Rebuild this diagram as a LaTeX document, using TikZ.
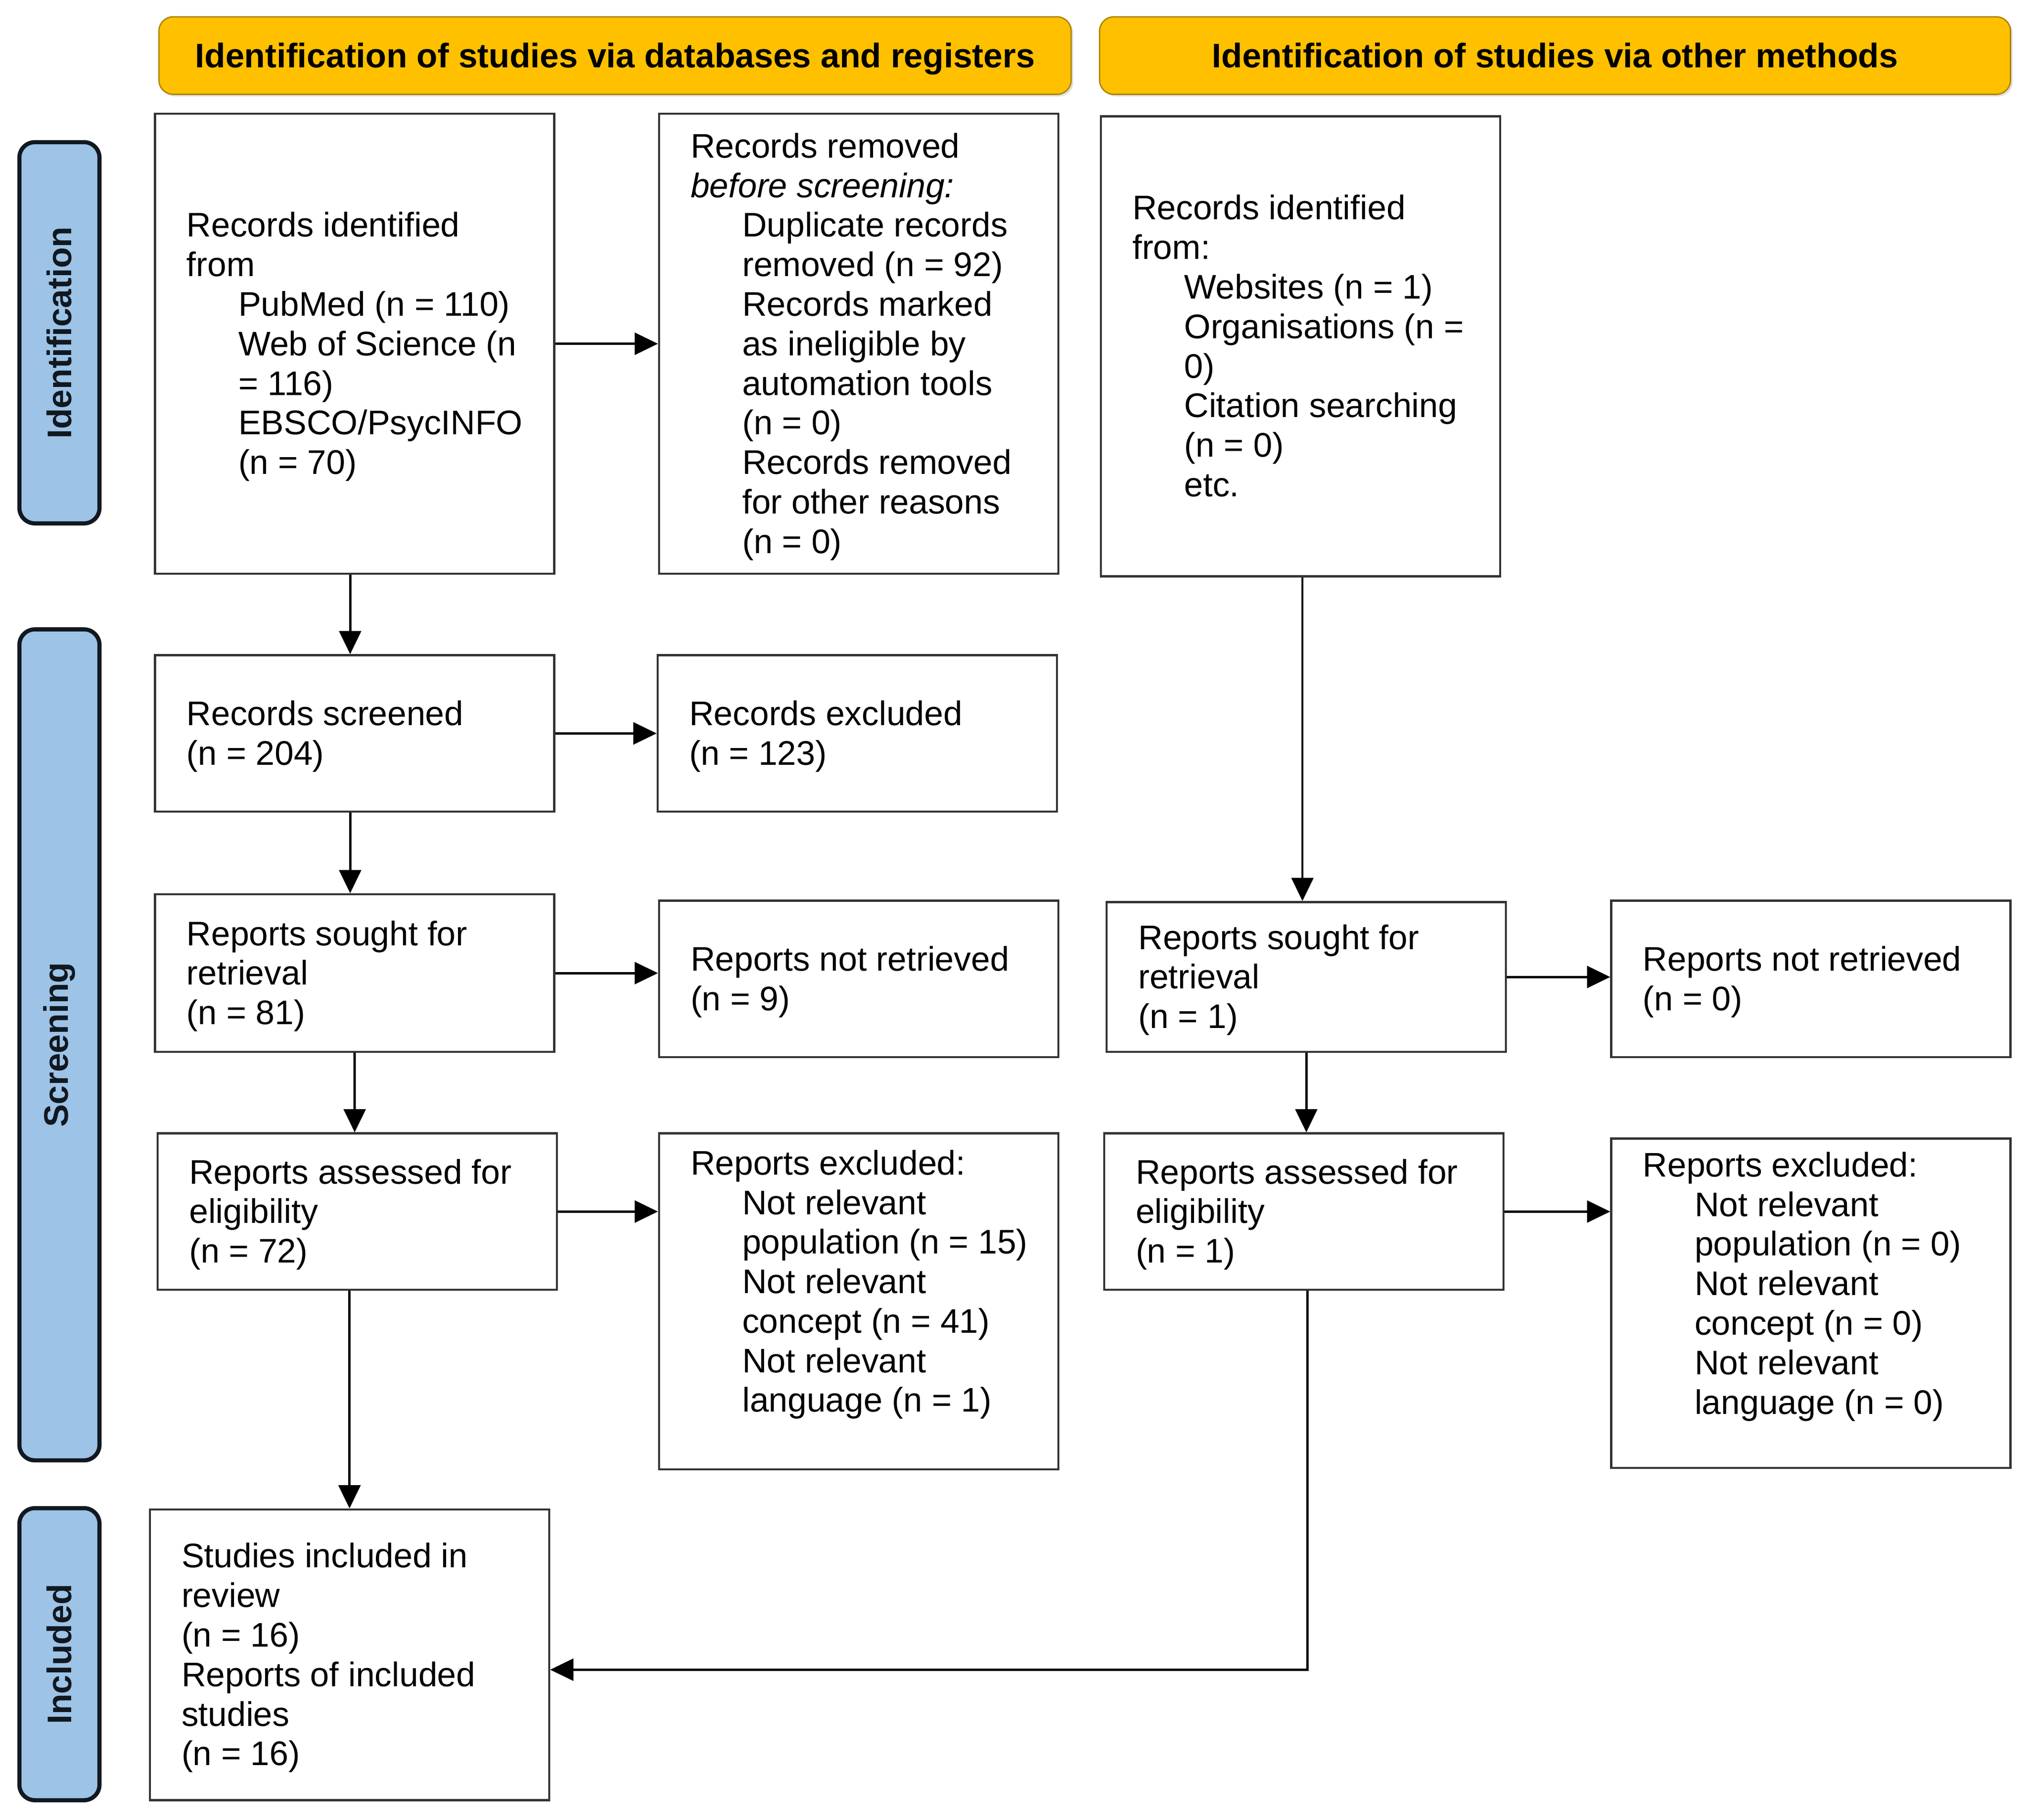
\documentclass[tikz,border=0pt]{standalone}
\usepackage{fontspec}
\setmainfont{Liberation Sans}
\usetikzlibrary{arrows.meta,shadows}
\definecolor{hdr}{HTML}{FFC000}
\definecolor{hdrline}{HTML}{A88300}
\definecolor{side}{HTML}{9DC3E6}
\definecolor{sideline}{HTML}{111820}
\definecolor{boxline}{HTML}{333333}
\newlength\boxtw
\setlength\boxtw{130pt}
\newcommand\bt[1]{\raisebox{-1.5pt}[\height][\depth]{\makebox[\boxtw][l]{\begin{tabular}{@{}l@{}}#1\end{tabular}}}}
\newcommand\ii{\hspace*{20pt}}
\begin{document}
\begin{tikzpicture}[x=0.5pt,y=-0.5pt,
  every node/.style={font=\fontsize{13.2}{15.3}\selectfont},
  hdrbox/.style={draw=hdrline, line width=0.5pt, fill=hdr, rounded corners=5.5pt,
    minimum height=30pt, inner sep=0pt, text height=11.5pt, text depth=2.3pt,
    font=\fontsize{13.2}{15.3}\selectfont\bfseries,
    drop shadow={opacity=0.25, shadow xshift=0.8pt, shadow yshift=-0.8pt}},
  sidebox/.style={draw=sideline, line width=1.6pt, fill=side, rounded corners=6pt,
    minimum width=31pt, inner sep=0pt, text=sideline,
    font=\fontsize{13.2}{15.3}\selectfont\bfseries},
  flowbox/.style={draw=boxline, line width=0.8pt, fill=white, inner xsep=12pt,
    inner ysep=0pt, minimum width=154.5pt},
  arr/.style={draw=black, line width=0.9pt, -{Triangle[length=9pt,width=8.5pt]}}
]
\fill[white] (0,0) rectangle (1568,1408);
\useasboundingbox (0,0) rectangle (1568,1408);

% headers
\node[hdrbox, minimum width=353pt] (H1) at (476,43) {Identification of studies via databases and registers};
\node[hdrbox, minimum width=352.5pt] (H2) at (1203.5,43) {Identification of studies via other methods};

% side labels
\node[sidebox, minimum height=147.5pt] (S1) at (46,257.5) {\rotatebox{90}{Identification}};
\node[sidebox, minimum height=321.5pt] (S2) at (46,808.5) {\rotatebox{90}{Screening}};
\node[sidebox, minimum height=113pt] (S3) at (46,1280) {\rotatebox{90}{Included}};

% left column
\node[flowbox, minimum height=178pt] (A) at (274.5,266) {\bt{Records identified\\from\\\ii PubMed (n = 110)\\\ii Web of Science (n\\\ii = 116)\\\ii EBSCO/PsycINFO\\\ii (n = 70)}};
\node[flowbox, minimum height=178pt] (B) at (664.5,266) {\bt{Records removed\\\textit{before screening:}\\\ii Duplicate records\\\ii removed (n = 92)\\\ii Records marked\\\ii as ineligible by\\\ii automation tools\\\ii (n = 0)\\\ii Records removed\\\ii for other reasons\\\ii (n = 0)}};
\node[flowbox, minimum height=60.5pt] (D) at (274.5,567.5) {\bt{Records screened\\(n = 204)}};
\node[flowbox, minimum height=60.5pt] (E) at (663.5,567.5) {\bt{Records excluded\\(n = 123)}};
\node[flowbox, minimum height=61pt] (F) at (274.5,753) {\bt{Reports sought for\\retrieval\\(n = 81)}};
\node[flowbox, minimum height=60.5pt] (G) at (664.5,757.5) {\bt{Reports not retrieved\\(n = 9)}};
\node[flowbox, minimum height=60.5pt] (J) at (276.5,937.5) {\bt{Reports assessed for\\eligibility\\(n = 72)}};
\node[flowbox, minimum height=130pt] (K) at (664.5,1007) {\bt{Reports excluded:\\\ii Not relevant\\\ii population (n = 15)\\\ii Not relevant\\\ii concept (n = 41)\\\ii Not relevant\\\ii language (n = 1)\\\mbox{}}};
\node[flowbox, minimum height=112.5pt] (N) at (270.5,1280.5) {\bt{Studies included in\\review\\(n = 16)\\Reports of included\\studies\\(n = 16)}};

% right column
\node[flowbox, minimum height=178pt] (C) at (1006.5,268) {\bt{Records identified\\from:\\\ii Websites (n = 1)\\\ii Organisations (n =\\\ii 0)\\\ii Citation searching\\\ii (n = 0)\\\ii etc.}};
\node[flowbox, minimum height=58pt] (H) at (1011,756) {\bt{Reports sought for\\retrieval\\(n = 1)}};
\node[flowbox, minimum height=60.5pt] (I) at (1401.5,757.5) {\bt{Reports not retrieved\\(n = 0)}};
\node[flowbox, minimum height=60.5pt] (L) at (1009,937.5) {\bt{Reports assessed for\\eligibility\\(n = 1)}};
\node[flowbox, minimum height=127.5pt] (M) at (1401.5,1008.5) {\bt{Reports excluded:\\\ii Not relevant\\\ii population (n = 0)\\\ii Not relevant\\\ii concept (n = 0)\\\ii Not relevant\\\ii language (n = 0)\\\mbox{}}};

% connectors
\draw[arr] (A.east) -- (B.west);
\draw[arr] ([xshift=-1.75pt]A.south) -- ([xshift=-1.75pt]D.north);
\draw[arr] (D.east) -- (E.west);
\draw[arr] ([xshift=-1.75pt]D.south) -- ([xshift=-1.75pt]F.north);
\draw[arr] (F.east) -- (F.east -| G.west);
\draw[arr] (F.south) -- (F.south |- J.north);
\draw[arr] (J.east) -- (J.east -| K.west);
\draw[arr] (J.south -| N.north) -- (N.north);
\draw[arr] ([xshift=0.75pt]C.south) -- ([xshift=0.75pt]C.south |- H.north);
\draw[arr] (H.east) -- (H.east -| I.west);
\draw[arr] (H.south) -- (H.south |- L.north);
\draw[arr] (L.east) -- (L.east -| M.west);
\draw[arr] ([xshift=1.5pt]L.south) |- ([yshift=-5.75pt]N.east);
\end{tikzpicture}
\end{document}
